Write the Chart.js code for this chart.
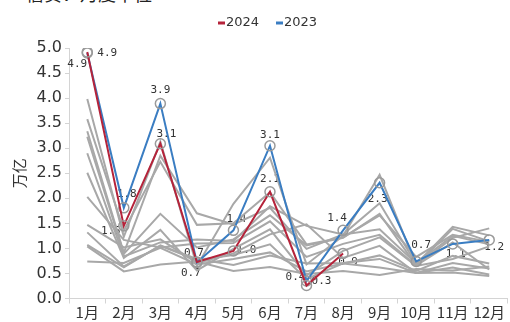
<!DOCTYPE html>
<html>
<head>
<meta charset="utf-8">
<script src="https://cdn.jsdelivr.net/npm/chart.js"></script>
<style>
  html, body { margin: 0; padding: 0; background: #fff; overflow: hidden; }
  #wrap { position: relative; width: 514px; height: 322px; }
  #note { position: absolute; left: 26px; top: -20px; font: 18px "Noto Sans CJK SC"; color: #222; white-space: nowrap; }
  canvas { position: absolute; left: 0; top: 0; }
</style>
</head>
<body>
<div id="wrap">
  <div id="note">信贷：月度单位</div>
  <canvas id="c" width="514" height="322"></canvas>
</div>
<script>
// Monthly new loans, trillion yuan
const months = ['1月','2月','3月','4月','5月','6月','7月','8月','9月','10月','11月','12月'];
const yTicks = [0, 0.5, 1, 1.5, 2, 2.5, 3, 3.5, 4, 4.5, 5];

const y2024 = [4.92, 1.45, 3.09, 0.73, 0.95, 2.13, 0.26, 0.90];
const y2023 = [4.90, 1.81, 3.89, 0.72, 1.36, 3.05, 0.35, 1.36, 2.31, 0.74, 1.09, 1.17];

// earlier years, drawn as grey context lines
const y2022 = [3.98, 1.23, 3.13, 0.65, 1.89, 2.81, 0.68, 1.25, 2.47, 0.66, 1.21, 1.40];
const y2021 = [3.58, 1.36, 2.73, 1.47, 1.50, 2.12, 1.08, 1.22, 1.66, 0.83, 1.27, 1.13];
const y2020 = [3.34, 0.91, 2.85, 1.70, 1.48, 1.81, 0.99, 1.28, 1.90, 0.69, 1.43, 1.26];
const y2019 = [3.23, 0.89, 1.69, 1.02, 1.18, 1.66, 1.06, 1.21, 1.69, 0.66, 1.39, 1.14];
const y2018 = [2.90, 0.84, 1.12, 1.18, 1.15, 1.84, 1.45, 1.28, 1.38, 0.70, 1.25, 1.08];
const y2017 = [2.03, 1.17, 1.02, 1.10, 1.11, 1.54, 0.83, 1.09, 1.27, 0.66, 1.12, 0.58];
const y2016 = [2.51, 0.81, 1.37, 0.56, 0.99, 1.38, 0.46, 0.95, 1.22, 0.65, 0.79, 1.04];
const y2015 = [1.47, 1.02, 1.18, 0.71, 0.90, 1.28, 1.48, 0.81, 1.05, 0.51, 0.71, 0.60];
const y2014 = [1.32, 0.64, 1.05, 0.77, 0.87, 1.08, 0.39, 0.70, 0.86, 0.55, 0.85, 0.70];
const y2013 = [1.07, 0.62, 1.06, 0.79, 0.67, 0.86, 0.70, 0.71, 0.79, 0.51, 0.62, 0.48];
const y2012 = [0.74, 0.71, 1.01, 0.68, 0.79, 0.92, 0.54, 0.70, 0.62, 0.51, 0.52, 0.45];
const y2011 = [1.04, 0.54, 0.68, 0.74, 0.55, 0.63, 0.49, 0.55, 0.47, 0.59, 0.56, 0.64];
const history = [y2022, y2021, y2020, y2019, y2018, y2017, y2016, y2015, y2014, y2013, y2012, y2011];

// where each value label sits relative to its point (px)
const off2024 = [[-10,12],[-13,5],[6,-10],[-6,11],[13,-1],[0,-13],[15,-4],[5,9]];
const off2023 = [[20,0],[3,-14],[0,-13],[-3,-9],[3,-11],[0,-11],[-11,-4],[-6,-12],[-2,16],[5,-16],[3,10],[5,7]];

const RED = '#b5233a', BLUE = '#3a7dc2', GREY = '#a8a8a8', TXT = '#333';

// one decimal, halves rounded up
const fmt1 = v => (Math.round(v * 10 + 1e-9) / 10).toFixed(1);

const valueLabels = {
  id: 'valueLabels',
  beforeDatasetsDraw(chart) {
    const ctx = chart.ctx;
    ctx.save();
    ctx.font = '11px "DejaVu Sans Mono"';
    ctx.fillStyle = TXT;
    ctx.textAlign = 'center';
    ctx.textBaseline = 'middle';
    [[0, off2024], [1, off2023]].forEach(([di, offs]) => {
      const meta = chart.getDatasetMeta(di);
      const data = chart.data.datasets[di].data;
      meta.data.forEach((pt, i) => {
        ctx.fillText(fmt1(data[i]), pt.x + offs[i][0], pt.y + offs[i][1]);
      });
    });
    ctx.restore();
  }
};

const topLegend = {
  id: 'topLegend',
  afterDraw(chart) {
    const ctx = chart.ctx;
    ctx.save();
    ctx.font = '13px "DejaVu Sans"';
    ctx.textBaseline = 'middle';
    ctx.fillStyle = TXT;
    ctx.lineWidth = 3;
    [[RED, '2024', 218], [BLUE, '2023', 276]].forEach(([col, txt, x]) => {
      ctx.strokeStyle = col;
      ctx.beginPath(); ctx.moveTo(x, 23); ctx.lineTo(x + 7, 23); ctx.stroke();
      ctx.fillText(txt, x + 8, 23);
    });
    ctx.restore();
  }
};

const datasets = [
  { label: '2024', data: y2024, borderColor: RED, borderWidth: 2,
    pointRadius: 5, pointBorderColor: '#9a9a9a', pointBackgroundColor: 'rgba(0,0,0,0)', pointBorderWidth: 1.5 },
  { label: '2023', data: y2023, borderColor: BLUE, borderWidth: 2,
    pointRadius: 5, pointBorderColor: '#9a9a9a', pointBackgroundColor: 'rgba(0,0,0,0)', pointBorderWidth: 1.5 }
];
history.forEach(arr => datasets.push({ data: arr, borderColor: GREY, borderWidth: 2, pointRadius: 0 }));

new Chart(document.getElementById('c'), {
  type: 'line',
  data: { labels: months, datasets },
  options: {
    responsive: false,
    animation: false,
    devicePixelRatio: 1,
    layout: { padding: { left: 0, right: 0, top: 48, bottom: 0 } },
    plugins: { legend: { display: false }, tooltip: { enabled: false } },
    elements: { line: { tension: 0 } },
    scales: {
      x: {
        offset: true,
        grid: { drawOnChartArea: false, drawTicks: true, tickLength: 5, color: '#d4d4d4', offset: true },
        border: { color: '#d4d4d4' },
        ticks: { color: TXT, font: { family: '"Noto Sans CJK SC"', size: 15 }, padding: 0, maxRotation: 0 },
        afterFit(s) { s.height = 23.5; }
      },
      y: {
        min: 0, max: 5,
        afterBuildTicks(s) { s.ticks = yTicks.map(v => ({ value: v })); },
        grid: { drawOnChartArea: false, drawTicks: true, tickLength: 4, color: '#d4d4d4' },
        border: { color: '#d4d4d4' },
        ticks: { color: TXT, font: { family: '"DejaVu Sans"', size: 16 }, padding: 3,
                 callback: v => Number(v).toFixed(1) },
        title: { display: true, text: '万亿', color: TXT, font: { family: '"Noto Sans CJK SC"', size: 15 },
                 padding: { top: 10, bottom: 0 } },
        afterFit(s) { s.width = 69; }
      }
    }
  },
  plugins: [valueLabels, topLegend]
});
</script>
</body>
</html>
